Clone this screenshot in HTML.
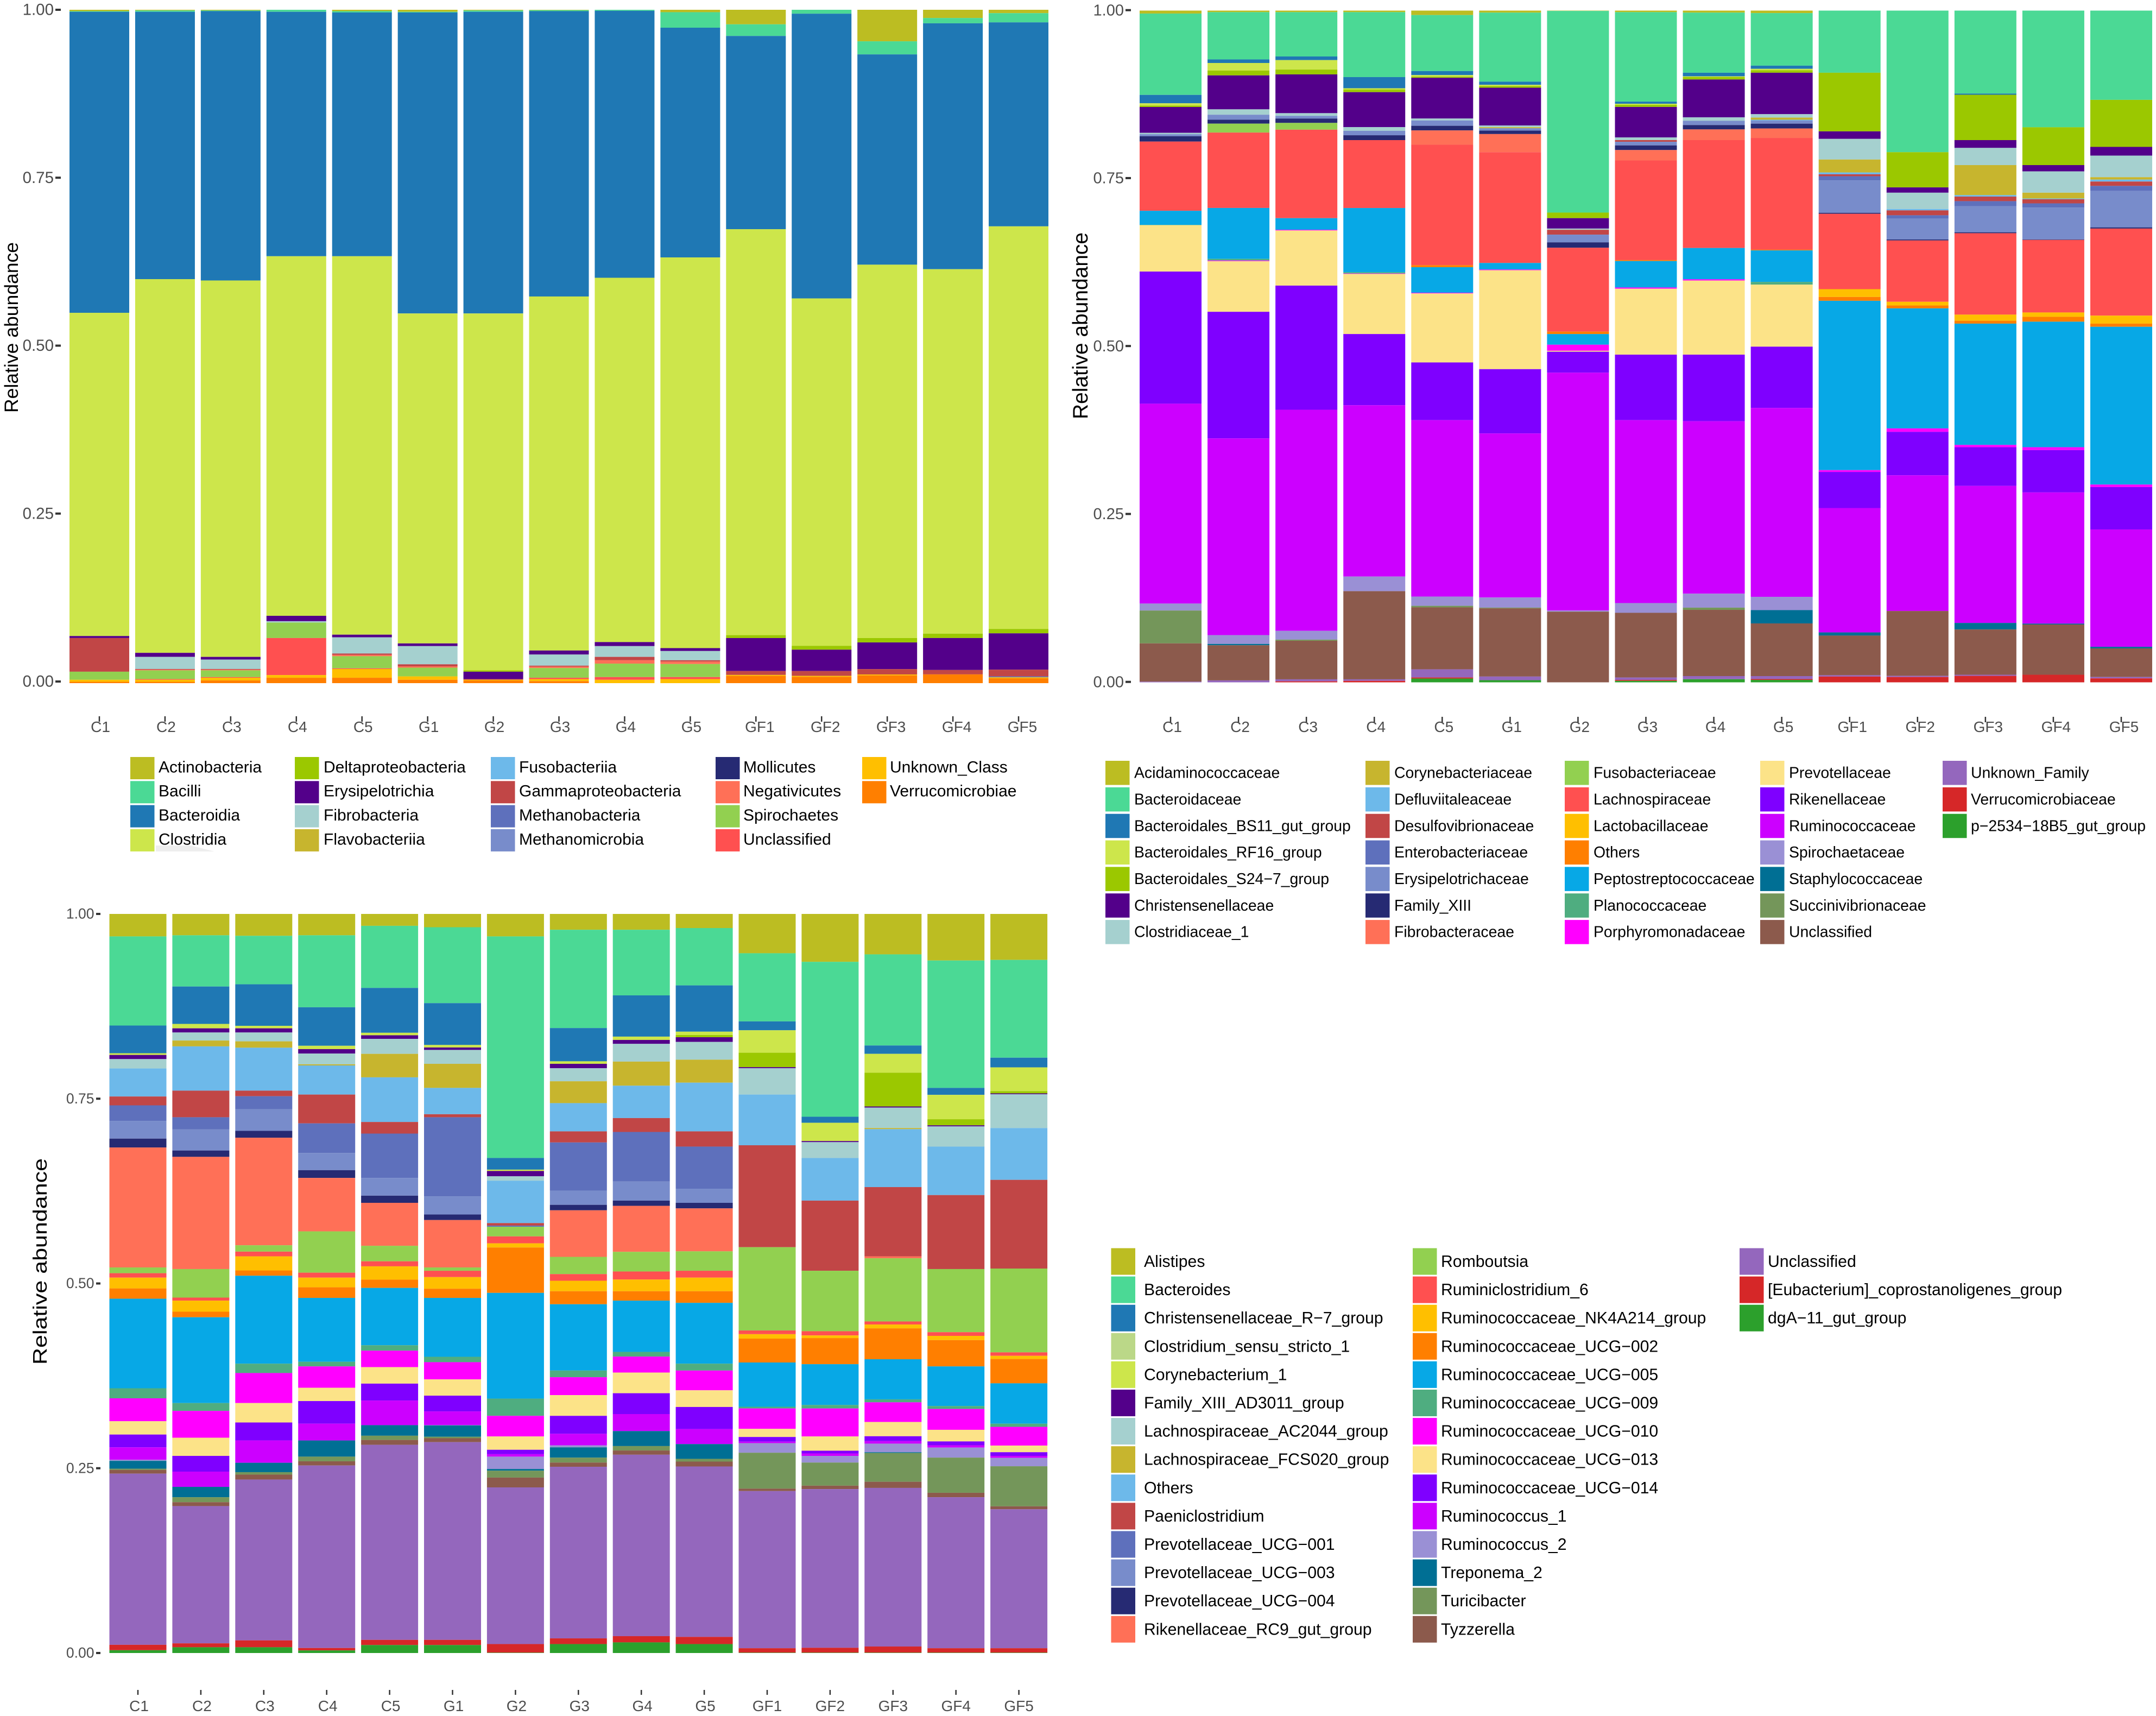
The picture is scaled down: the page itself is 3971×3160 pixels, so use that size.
<!DOCTYPE html>
<html lang="en">
<head>
<meta charset="utf-8">
<title>Relative abundance stacked bar charts</title>
<style>
html,body{margin:0;padding:0;background:#fff;width:3971px;height:3160px;overflow:hidden}
svg{display:block}
text{font-family:"Liberation Sans",Arial,sans-serif}
</style>
</head>
<body>
<svg id="figure" xmlns="http://www.w3.org/2000/svg" width="3971" height="3160" viewBox="0 0 3971 3160">
<rect x="0" y="0" width="3971" height="3160" fill="#ffffff"/>
<polygon points="287,1557 351,1557 395,1568 287,1568" fill="#eeeeee"/>
</svg>
<script>
const samples = ['C1','C2','C3','C4','C5','G1','G2','G3','G4','G5','GF1','GF2','GF3','GF4','GF5'];
const yTickValues = [0, 0.25, 0.5, 0.75, 1];
const yTickLabels = ['0.00','0.25','0.50','0.75','1.00'];

const classNames = ['Actinobacteria','Bacilli','Bacteroidia','Clostridia','Deltaproteobacteria','Erysipelotrichia','Fibrobacteria','Flavobacteriia','Fusobacteriia','Gammaproteobacteria','Methanobacteria','Methanomicrobia','Mollicutes','Negativicutes','Spirochaetes','Unclassified','Unknown_Class','Verrucomicrobiae'];
const classColors = ['#BCBD22','#4BD995','#1F78B4','#CDE64B','#9BC800','#53008A','#A5D0CF','#C7B52E','#6DB9EA','#C14646','#5E70BC','#788CCB','#262A73','#FF7057','#92D050','#FF5050','#FFBF00','#FF7F00'];
// Percent per class (legend order), one row per sample.
const classValues = [
[.2,.1,44.7,48,0,.3,0,0,0,5,0,0,0,0,1.2,0,.3,.2],
[.1,.2,39.7,55.5,0,.6,1.8,0,0,.1,0,0,0,.1,1.3,.1,.3,.2],
[.1,.1,40,55.9,0,.4,1.4,0,0,.1,0,0,0,.1,1,.1,.4,.4],
[0,.3,36.3,53.4,0,.8,.2,0,0,0,0,0,0,0,2.3,5.5,.4,.8],
[.2,.2,36.2,56.2,0,.4,2.4,0,0,.2,0,0,0,.2,1.8,.1,1.3,.8],
[.3,.1,44.7,49,0,.4,2.7,0,0,.3,0,0,0,.2,1.3,0,.5,.5],
[.1,.2,44.8,53,.2,1.1,0,0,0,.1,0,0,0,0,0,0,.1,.4],
[.06,.14,42.4,52.6,0,.6,1.65,0,0,.15,0,0,0,.2,1.45,.2,.3,.3],
[0,.15,39.65,54.1,0,.6,1.6,0,0,.5,0,0,0,.5,2,.4,.5,0],
[.36,2.3,34.1,58,0,.43,1.37,0,0,.2,0,0,0,.36,1.94,.3,.6,0],
[2.16,1.73,28.7,60.3,.43,4.9,0,0,0,.58,0,0,0,0,0,0,.14,1.08],
[0,.58,42.3,51.6,.58,3.17,0,0,0,.72,0,0,0,0,0,0,.14,.94],
[4.68,1.94,31.2,55.4,.65,3.96,0,0,0,.79,0,0,0,0,0,0,.14,1.15],
[1.22,.79,36.5,54.1,.65,4.75,0,0,0,.65,0,0,0,0,0,0,0,1.3],
[.5,1.37,30.3,59.8,.65,5.4,0,0,0,1,.14,0,0,0,0,0,.14,.72]
];

const familyNames = ['Acidaminococcaceae','Bacteroidaceae','Bacteroidales_BS11_gut_group','Bacteroidales_RF16_group','Bacteroidales_S24−7_group','Christensenellaceae','Clostridiaceae_1','Corynebacteriaceae','Defluviitaleaceae','Desulfovibrionaceae','Enterobacteriaceae','Erysipelotrichaceae','Family_XIII','Fibrobacteraceae','Fusobacteriaceae','Lachnospiraceae','Lactobacillaceae','Others','Peptostreptococcaceae','Planococcaceae','Porphyromonadaceae','Prevotellaceae','Rikenellaceae','Ruminococcaceae','Spirochaetaceae','Staphylococcaceae','Succinivibrionaceae','Unclassified','Unknown_Family','Verrucomicrobiaceae','p−2534−18B5_gut_group'];
const familyColors = ['#BCBD22','#4BD995','#1F78B4','#CDE64B','#9BC800','#53008A','#A5D0CF','#C7B52E','#6DB9EA','#C14646','#5E70BC','#788CCB','#262A73','#FF7057','#92D050','#FF5050','#FFBF00','#FF7F00','#07A8E6','#4FAD80','#FF00FF','#FCE388','#7F00FF','#CC00FF','#9A90D5','#006F94','#74965A','#8C5A4C','#9467BD','#D62728','#2CA02C'];
// Percent per family (legend order), one row per sample.
const familyValues = [
[.44,12.11,1.25,.35,.2,3.85,.2,0,0,0,0,.3,.8,0,0,10.3,0,0,2.1,.05,0,6.9,19.67,29.75,1.04,0,4.89,5.7,.1,0,0],
[.23,7.04,.53,1.13,.72,5.05,.8,0,0,0,0,.75,.58,0,1.33,11.22,0,0,7.58,.24,.1,7.54,18.84,29.29,1.31,.2,0,5.23,.29,0,0],
[.23,6.6,.54,1.41,.72,5.77,.4,0,0,0,0,.4,.65,0,1.01,13.17,0,0,1.73,0,.1,8.21,18.48,32.91,1.31,0,.17,5.74,.3,.15,0],
[.23,9.67,1.66,.18,.4,5.2,.56,0,0,0,0,.66,.72,0,0,10.11,0,0,9.56,.18,.07,8.95,10.6,25.5,2.18,0,0,13.12,.23,.22,0],
[.66,8.34,.6,.23,.17,6.07,.29,0,0,0,0,.79,.69,2.13,0,17.93,0,.3,3.8,0,.1,10.28,8.59,26.26,1.38,0,.23,9.23,1.21,.16,.56],
[.3,10.28,.47,.18,.25,5.63,.25,.15,0,0,0,.36,.51,2.7,0,16.49,0,0,.98,0,.1,14.73,9.57,24.42,1.51,0,.1,10.16,.54,0,.32],
[.05,30.02,0,0,.83,1.55,.18,0,0,.72,0,1.15,.8,0,0,12.49,0,.36,1.59,0,.9,.14,3.12,35.41,.17,0,0,10.52,0,0,0],
[.23,13.32,.32,.14,.33,4.54,.4,0,0,.25,0,.54,.69,1.55,0,14.83,0,.14,3.94,0,.18,9.82,9.75,27.23,1.45,0,0,9.63,.36,.14,.22],
[.3,8.95,.54,.11,.36,5.63,.51,0,0,0,0,.64,.65,1.59,0,16.06,0,0,4.66,0,.18,11.04,9.91,25.67,2.08,0,.33,9.86,.47,0,.46],
[.37,7.83,.47,.22,.36,6.17,.51,.32,.11,0,0,.47,.72,1.41,0,16.64,0,.1,4.69,.4,0,9.24,9.12,28.12,1.98,1.98,0,7.84,.44,.13,.36],
[0,9.25,0,0,8.73,1.12,3.07,1.93,.27,.29,.61,4.83,.15,0,0,11.22,1.16,.57,25.21,0,.27,0,5.37,18.52,0,.47,0,5.9,.2,.86,0],
[0,21.08,0,0,5.24,.79,2.42,0,.21,.73,.5,3.1,.15,0,0,9.13,.55,.43,17.87,0,.51,0,6.47,20.2,0,0,0,9.66,.17,.79,0],
[0,12.35,.18,0,6.75,1.16,2.56,4.47,.22,.68,.73,3.9,.14,0,0,12.12,.91,.43,18.06,0,.34,0,5.76,20.4,0,.97,0,6.74,.17,.96,0],
[0,17.37,0,0,5.63,.94,3.17,.87,.11,.61,.61,4.76,.07,0,0,10.8,.65,.72,18.69,0,.43,0,6.3,19.53,0,.13,0,7.48,0,1.13,0],
[0,13.29,0,0,7,1.3,3.21,.36,.29,.65,.76,5.41,.18,0,0,12.96,1.19,.47,23.49,0,.37,0,6.31,17.47,0,.24,0,4.26,.2,.59,0]
];

const genusNames = ['Alistipes','Bacteroides','Christensenellaceae_R−7_group','Clostridium_sensu_stricto_1','Corynebacterium_1','Family_XIII_AD3011_group','Lachnospiraceae_AC2044_group','Lachnospiraceae_FCS020_group','Others','Paeniclostridium','Prevotellaceae_UCG−001','Prevotellaceae_UCG−003','Prevotellaceae_UCG−004','Rikenellaceae_RC9_gut_group','Romboutsia','Ruminiclostridium_6','Ruminococcaceae_NK4A214_group','Ruminococcaceae_UCG−002','Ruminococcaceae_UCG−005','Ruminococcaceae_UCG−009','Ruminococcaceae_UCG−010','Ruminococcaceae_UCG−013','Ruminococcaceae_UCG−014','Ruminococcus_1','Ruminococcus_2','Treponema_2','Turicibacter','Tyzzerella','Unclassified','[Eubacterium]_coprostanoligenes_group','dgA−11_gut_group'];
const genusColors = ['#BCBD22','#4BD995','#1F78B4','#CDE64B','#9BC800','#53008A','#A5D0CF','#C7B52E','#6DB9EA','#C14646','#5E70BC','#788CCB','#262A73','#FF7057','#92D050','#FF5050','#FFBF00','#FF7F00','#07A8E6','#4FAD80','#FF00FF','#FCE388','#7F00FF','#CC00FF','#9A90D5','#006F94','#74965A','#8C5A4C','#9467BD','#D62728','#2CA02C'];
const genusLegendColors = ['#BCBD22','#4BD995','#1F78B4','#BBD888','#CDE64B','#53008A','#A5D0CF','#C7B52E','#6DB9EA','#C14646','#5E70BC','#788CCB','#262A73','#FF7057','#92D050','#FF5050','#FFBF00','#FF7F00','#07A8E6','#4FAD80','#FF00FF','#FCE388','#7F00FF','#CC00FF','#9A90D5','#006F94','#74965A','#8C5A4C','#9467BD','#D62728','#2CA02C'];
// Percent per genus (legend order), one row per sample.
const genusValues = [
[3.04,12.06,3.75,.23,0,.56,1.27,0,3.79,1.2,2.1,2.4,1.2,16.23,.78,.6,1.46,1.39,12.12,1.36,3.1,1.8,1.73,1.69,.14,1.06,.17,.5,23.16,.73,.38],
[2.89,6.93,5.06,.6,0,.56,1.09,.79,5.99,3.6,1.65,2.85,.86,15.18,3.86,.41,1.5,.75,11.61,1.06,3.63,2.46,2.13,2.06,0,1.4,.67,.53,18.57,.53,.78],
[2.96,6.56,5.62,.34,0,.56,1.2,.86,5.81,.75,1.76,2.93,.93,14.55,.86,.64,1.91,.71,11.9,1.27,4.06,2.63,2.43,3.02,0,1.27,.33,.67,21.76,.93,.78],
[2.89,9.74,5.21,.45,0,.6,1.46,.15,3.94,3.9,4.01,2.32,1.05,7.23,5.59,.67,1.31,1.43,8.64,.63,2.89,1.8,3.06,2.27,0,2.19,.63,.57,24.69,.33,.35],
[1.61,8.4,6.07,.34,0,.48,2.03,3.18,6.04,1.57,6,2.4,.97,5.81,2.1,.68,1.8,1.12,7.76,.73,2.23,2.23,2.29,3.33,0,1.43,.57,.66,26.39,.7,1.08],
[1.8,10.27,5.66,.34,0,.33,1.88,3.26,3.56,.41,10.72,2.44,.75,6.41,.45,.86,1.57,1.24,7.97,.73,2.33,2.2,2.13,1.86,.03,1.54,.2,.53,26.75,.7,1.08],
[3.04,29.98,1.58,.18,0,.71,.6,0,5.74,.34,.15,0,0,0,1.31,.94,.56,6.14,14.31,2.33,2.79,1.8,.6,.33,1.67,.23,.93,1.33,21.2,1.16,.05],
[2.14,13.3,4.5,.34,0,.6,1.76,2.96,3.82,1.5,6.52,1.92,.74,6.3,2.33,.9,1.42,1.76,8.97,.9,2.43,2.8,2.43,1.56,.27,1.39,.67,.57,23.22,.77,1.21],
[2.14,8.88,5.58,.45,0,.53,2.4,3.26,4.38,1.88,6.71,2.58,.71,6.22,2.66,1.09,1.58,1.27,6.94,.63,2.16,2.8,2.82,2.3,0,2.03,.6,.57,24.55,.84,1.44],
[1.91,7.76,6.26,.45,.3,.64,2.4,3.11,6.59,2.06,5.7,1.91,.75,5.81,2.63,.93,1.84,1.57,8.23,.93,2.67,2.26,2.99,2.03,0,2,.37,.66,23.06,.97,1.21],
[5.32,9.22,1.2,3.04,1.95,.15,3.56,0,6.86,13.79,0,0,0,0,11.27,.5,.6,3.23,5.99,.23,2.76,1.1,.63,.2,1.3,0,4.86,.33,21.26,.6,.05],
[6.48,20.96,.82,2.47,0,.15,2.14,0,5.77,9.49,0,0,0,0,8.18,.57,.36,3.53,5.52,.47,3.79,1.93,.37,.33,.9,0,3.13,.46,21.47,.66,.05],
[5.47,12.33,1.13,2.55,4.57,.15,2.77,.15,7.84,9.37,0,0,0,.26,8.55,.41,.52,4.18,5.43,.4,2.66,1.93,.66,.34,1.16,.1,3.9,.83,21.46,.83,.05],
[6.3,17.24,.94,3.3,.82,.15,2.73,0,6.56,10.01,0,0,0,0,8.54,.5,.57,3.56,5.36,.4,2.82,1.57,.53,.3,1.36,0,4.76,.6,20.43,.6,.05],
[6.22,13.23,1.31,3.22,.3,.12,4.57,0,7.01,12,0,0,0,0,11.34,.47,.43,3.29,5.46,.43,2.53,.9,.5,.27,1.13,0,5.42,.4,18.8,.6,.05]
];

const NS = 'http://www.w3.org/2000/svg';
const figure = document.getElementById('figure');

function makeEl(tag, parent, attrs) {
  const el = document.createElementNS(NS, tag);
  for (const k in attrs) el.setAttribute(k, attrs[k]);
  parent.appendChild(el);
  return el;
}

function drawPanel(panel) {
  const group = makeEl('g', figure, {});
  
  

  const xScale = i => panel.barLeft + i * panel.pitch;
  const yScale = v => panel.top + (1 - v) * panel.height;
  const yTickScale = v => panel.tickTop + (1 - v) * panel.tickHeight;

  // stacked bars, first legend entry on top
  panel.values.forEach((row, s) => {
    const total = row.reduce((a, b) => a + b, 0);
    let cum = 1;
    row.forEach((value, t) => {
      if (value <= 0) return;
      const frac = value / total;
      const y0 = yScale(cum);
      const y1 = yScale(cum - frac);
      cum -= frac;
      const seg = makeEl('rect', group, {x: xScale(s), y: y0, width: panel.barWidth, height: y1 - y0, fill: panel.colors[t]});
      
      
    });
  });

  // y axis ticks and labels
  yTickValues.forEach((v, i) => {
    const y = yTickScale(v);
    const tick = makeEl('rect', group, {x: panel.yTickX, y: y - 2, width: panel.yTickW, height: 4, fill: '#333333'});
    
    
    const label = makeEl('text', group, {x: panel.yLabelRight, y: y + panel.yFont * 0.33, 'font-size': panel.yFont, fill: '#4d4d4d', 'text-anchor': 'end'});
    
    
    label.textContent = yTickLabels[i];
  });

  // x axis ticks and labels
  samples.forEach((name, i) => {
    const cx = xScale(i) + panel.barWidth / 2;
    const tick = makeEl('rect', group, {x: cx - 1.25, y: panel.xTickTop, width: 2.5, height: panel.xTickH, fill: '#333333'});
    
    
    const shift = panel.xLabelShift + (name.length > 2 ? panel.xLongShift : 0);
    const label = makeEl('text', group, {x: cx + shift, y: panel.xLabelBase, 'font-size': panel.xFont, fill: '#4d4d4d', 'text-anchor': 'middle'});
    
    
    label.textContent = name;
  });

  // y axis title
  const title = makeEl('text', group, {
    transform: 'translate(' + panel.titleX + ',' + panel.titleY + ') rotate(-90)',
    'font-size': panel.titleFont, fill: '#000000', 'text-anchor': 'middle',
    textLength: panel.titleLen, lengthAdjust: 'spacingAndGlyphs'
  });
  
  
  title.textContent = 'Relative abundance';

  // legend, filled column by column
  const legend = makeEl('g', group, {});
  
  
  panel.names.forEach((name, i) => {
    const col = Math.floor(i / panel.legendRows);
    const row = i % panel.legendRows;
    const y = panel.legendTop + row * panel.legendPitch;
    const swatch = makeEl('rect', legend, {x: panel.legendCols[col], y: y, width: 44.5, height: panel.legendH, fill: panel.legendColors[i]});
    
    
    const label = makeEl('text', legend, {x: panel.legendText[col], y: y + panel.legendH / 2 + panel.legendFont * 0.33 + panel.legendDy, 'font-size': panel.legendFont, fill: '#000000'});
    
    
    label.textContent = name;
  });
}

drawPanel({
  id: 'class', names: classNames, colors: classColors, legendColors: classColors, values: classValues,
  barLeft: 128, pitch: 120.93, barWidth: 110, top: 18, height: 1240,
  tickTop: 18, tickHeight: 1237,
  yTickX: 102, yTickW: 10, yLabelRight: 99, yFont: 29.5,
  xTickTop: 1319, xTickH: 10, xLabelBase: 1348, xFont: 28, xLabelShift: 2, xLongShift: 5,
  titleX: 33, titleY: 603, titleFont: 35.5, titleLen: 314,
  legendRows: 4, legendTop: 1394, legendPitch: 44.3, legendH: 41, legendDy: -2,
  legendCols: [240, 543, 904, 1318, 1588], legendText: [292, 596, 956, 1369, 1639], legendFont: 30
});

drawPanel({
  id: 'family', names: familyNames, colors: familyColors, legendColors: familyColors, values: familyValues,
  barLeft: 2099, pitch: 125.07, barWidth: 114, top: 19.5, height: 1237,
  tickTop: 18.7, tickHeight: 1237,
  yTickX: 2073, yTickW: 10, yLabelRight: 2070, yFont: 29,
  xTickTop: 1320, xTickH: 10, xLabelBase: 1348, xFont: 28, xLabelShift: 3, xLongShift: 2,
  titleX: 2003, titleY: 600, titleFont: 38.5, titleLen: 344,
  legendRows: 7, legendTop: 1401, legendPitch: 48.85, legendH: 44.5, legendDy: 0,
  legendCols: [2036, 2515, 2882, 3242, 3578], legendText: [2089, 2568, 2935, 3295, 3630], legendFont: 28.4
});

drawPanel({
  id: 'genus', names: genusNames, colors: genusColors, legendColors: genusLegendColors, values: genusValues,
  barLeft: 201.5, pitch: 115.9, barWidth: 105, top: 1683, height: 1361,
  tickTop: 1683, tickHeight: 1361,
  yTickX: 177, yTickW: 8, yLabelRight: 173.5, yFont: 26.5,
  xTickTop: 3112, xTickH: 9, xLabelBase: 3151, xFont: 28, xLabelShift: 2, xLongShift: -2,
  titleX: 86, titleY: 2323, titleFont: 36, titleLen: 380,
  legendRows: 14, legendTop: 2298.5, legendPitch: 52.1, legendH: 49, legendDy: 0,
  legendCols: [2046.5, 2602, 3204], legendText: [2107, 2654, 3256], legendFont: 30.2
});
</script>
</body>
</html>
